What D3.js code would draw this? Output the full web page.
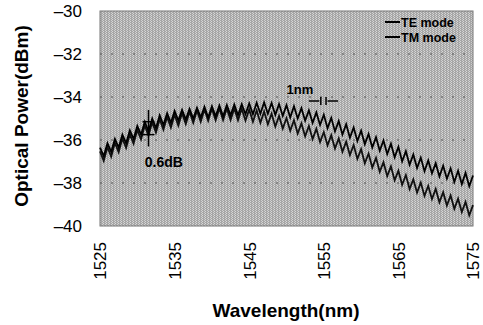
<!DOCTYPE html>
<html>
<head>
<meta charset="utf-8">
<script src="https://cdn.jsdelivr.net/npm/d3@7"></script>
<style>
  body { margin: 0; background: #fff; }
  svg text { font-family: "Liberation Sans", Arial, sans-serif; }
</style>
</head>
<body>
<div id="chart"></div>
<script>
// sampling grid (nm) for the two traces
const wavelengths = d3.range(1525, 1575.01, 0.5);

// TE mode trace (dBm), every 0.5 nm
const teMode = [
  -36.35, -36.75, -36.15, -36.55, -35.95, -36.35, -35.75, -36.15, -35.55, -35.95,
  -35.35, -35.75, -35.15, -35.6, -35.0, -35.45, -34.85, -35.3, -34.75, -35.2,
  -34.65, -35.1, -34.6, -35.05, -34.55, -35.0, -34.5, -34.95, -34.45, -34.95,
  -34.43, -34.9, -34.4, -34.9, -34.37, -34.85, -34.35, -34.85, -34.33, -34.8,
  -34.3, -34.8, -34.27, -34.78, -34.25, -34.78, -34.28, -34.83, -34.33, -34.88,
  -34.38, -34.95, -34.43, -35.0, -34.52, -35.1, -34.62, -35.2, -34.72, -35.3,
  -34.82, -35.45, -34.97, -35.6, -35.12, -35.75, -35.27, -35.9, -35.42, -36.05,
  -35.57, -36.2, -35.72, -36.35, -35.87, -36.5, -36.02, -36.65, -36.17, -36.8,
  -36.32, -37.0, -36.52, -37.15, -36.67, -37.3, -36.82, -37.45, -36.95, -37.55,
  -37.08, -37.7, -37.2, -37.8, -37.32, -37.95, -37.43, -38.05, -37.53, -38.15,
  -37.65
];

// TM mode trace (dBm)
const tmMode = [
  -36.53, -36.97, -36.33, -36.77, -36.13, -36.57, -35.93, -36.37, -35.73, -36.17,
  -35.53, -35.97, -35.33, -35.8, -35.18, -35.65, -35.03, -35.52, -34.93, -35.42,
  -34.83, -35.33, -34.75, -35.26, -34.68, -35.2, -34.63, -35.15, -34.58, -35.11,
  -34.55, -35.08, -34.53, -35.07, -34.53, -35.07, -34.53, -35.08, -34.55, -35.1,
  -34.58, -35.15, -34.63, -35.2, -34.68, -35.27, -34.78, -35.37, -34.88, -35.47,
  -34.98, -35.57, -35.08, -35.7, -35.23, -35.83, -35.35, -35.96, -35.48, -36.1,
  -35.63, -36.25, -35.78, -36.4, -35.93, -36.55, -36.08, -36.7, -36.23, -36.88,
  -36.43, -37.08, -36.63, -37.28, -36.83, -37.48, -37.03, -37.68, -37.23, -37.88,
  -37.43, -38.08, -37.63, -38.28, -37.83, -38.45, -37.98, -38.6, -38.13, -38.75,
  -38.28, -38.9, -38.43, -39.05, -38.58, -39.2, -38.73, -39.35, -38.88, -39.5,
  -39.03
];

const xTicks = [1525, 1535, 1545, 1555, 1565, 1575];
const yTicks = [-30, -32, -34, -36, -38, -40];
const seriesNames = ["TE mode", "TM mode"];

const W = 483, H = 325;
const margin = { top: 11, right: 10, bottom: 99, left: 100 };
const width = W - margin.left - margin.right,
  height = H - margin.top - margin.bottom;

const svg = d3.select("#chart").append("svg")
  .attr("width", W).attr("height", H);

// halftone-ish background
const defs = svg.append("defs");
const pat = defs.append("pattern")
  .attr("id", "tone").attr("patternUnits", "userSpaceOnUse")
  .attr("width", 3).attr("height", 2);
pat.append("rect").attr("width", 3).attr("height", 2).attr("fill", "#a6a6a6");
pat.append("rect").attr("x", 0).attr("width", 1).attr("height", 1).attr("fill", "#d8d8d8");
pat.append("rect").attr("x", 2).attr("y", 1).attr("width", 1).attr("height", 1).attr("fill", "#cfcfcf");

const g = svg.append("g")
  .attr("transform", "translate(" + margin.left + "," + margin.top + ")");

const x = d3.scaleLinear().domain([1525, 1575]).range([0, width]);
const y = d3.scaleLinear().domain([-40, -30]).range([height, 0]);

g.append("rect")
  .attr("width", width).attr("height", height)
  .attr("fill", "url(#tone)")
  .attr("stroke", "#777").attr("stroke-width", 1);

// faint dashed grid
g.append("g")
  .selectAll("line")
  .data(yTicks.slice(1, -1))
  .enter().append("line")
  .attr("x1", 0).attr("x2", width)
  .attr("y1", d => y(d)).attr("y2", d => y(d))
  .attr("stroke", "#555").attr("stroke-width", 1)
  .attr("stroke-dasharray", "2,9");

// axes
const yAxis = g.append("g")
  .call(d3.axisLeft(y).tickValues(yTicks).tickSize(0).tickPadding(18)
    .tickFormat(d => "\u2013" + Math.abs(d)));
yAxis.select(".domain").remove();
yAxis.selectAll("text").attr("font-size", 17).attr("fill", "#000");

const xAxis = g.append("g")
  .attr("transform", "translate(0," + height + ")")
  .call(d3.axisBottom(x).tickValues(xTicks).tickSize(0).tickFormat(d3.format("d")));
xAxis.select(".domain").remove();
xAxis.selectAll("text")
  .attr("font-size", 17).attr("fill", "#000")
  .attr("transform", "rotate(-90)")
  .attr("text-anchor", "end")
  .attr("dy", "0.35em")
  .attr("x", -16).attr("y", 0);

// axis titles
svg.append("text")
  .attr("x", 286).attr("y", 317)
  .attr("text-anchor", "middle")
  .attr("font-size", 19).attr("font-weight", "bold")
  .text("Wavelength(nm)");

svg.append("text")
  .attr("transform", "translate(28,116) rotate(-90)")
  .attr("text-anchor", "middle")
  .attr("font-size", 19).attr("font-weight", "bold")
  .text("Optical Power(dBm)");

// traces
const line = d3.line()
  .x((d, i) => x(wavelengths[i]))
  .y(d => y(d));

g.append("path").datum(tmMode)
  .attr("fill", "none").attr("stroke", "#111").attr("stroke-width", 1.8)
  .attr("d", line);
g.append("path").datum(teMode)
  .attr("fill", "none").attr("stroke", "#000").attr("stroke-width", 1.8)
  .attr("d", line);

// legend
const legend = g.append("g").attr("transform", "translate(285,11)");
seriesNames.forEach((name, i) => {
  const row = legend.append("g").attr("transform", "translate(0," + i * 15 + ")");
  row.append("line").attr("x1", 0).attr("x2", 15).attr("y1", 0).attr("y2", 0)
    .attr("stroke", "#000").attr("stroke-width", 2);
  row.append("text").attr("x", 16).attr("y", 4.5)
    .attr("font-size", 12.5).attr("font-weight", "bold").text(name);
});

// annotations: 1nm period and 0.6dB ripple
g.append("text")
  .attr("x", x(1551.8)).attr("y", 83)
  .attr("text-anchor", "middle")
  .attr("font-family", "Liberation Serif, serif")
  .attr("font-size", 13).attr("font-weight", "bold")
  .text("1nm");
const arr = g.append("g").attr("stroke", "#000").attr("stroke-width", 1.5);
arr.append("line").attr("x1", x(1553.0)).attr("x2", x(1554.4)).attr("y1", 90).attr("y2", 90);
arr.append("line").attr("x1", x(1555.5)).attr("x2", x(1556.9)).attr("y1", 90).attr("y2", 90);
arr.append("line").attr("x1", x(1554.6)).attr("x2", x(1554.6)).attr("y1", 86).attr("y2", 94);
arr.append("line").attr("x1", x(1555.3)).attr("x2", x(1555.3)).attr("y1", 86).attr("y2", 94);

const mk = g.append("g").attr("stroke", "#000").attr("stroke-width", 1.5);
mk.append("line").attr("x1", x(1531.5)).attr("x2", x(1531.5)).attr("y1", y(-34.6)).attr("y2", y(-36.3));
mk.append("line").attr("x1", x(1530.7)).attr("x2", x(1532.3)).attr("y1", y(-35.15)).attr("y2", y(-35.15));
mk.append("line").attr("x1", x(1530.7)).attr("x2", x(1532.3)).attr("y1", y(-35.75)).attr("y2", y(-35.75));

g.append("text")
  .attr("x", x(1531.0)).attr("y", y(-37.25))
  .attr("font-family", "Liberation Serif, serif")
  .attr("font-size", 14).attr("font-weight", "bold")
  .text("0.6dB");
</script>
</body>
</html>
